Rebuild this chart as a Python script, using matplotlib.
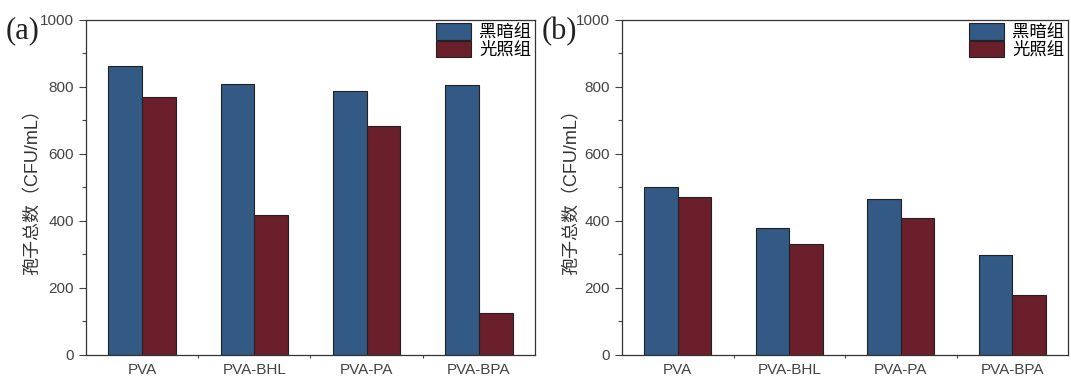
import matplotlib
matplotlib.use('Agg')
import matplotlib.pyplot as plt
import numpy as np
from matplotlib.ticker import MultipleLocator, FixedLocator

plt.rcParams['font.family'] = ['Liberation Sans', 'Noto Sans CJK SC', 'DejaVu Sans']

groups = ['PVA', 'PVA-BHL', 'PVA-PA', 'PVA-BPA']
series_names = ['黑暗组', '光照组']
dark_a = [863, 809, 788, 806]
light_a = [771, 418, 684, 126]
dark_b = [500, 378, 464, 298]
light_b = [470, 331, 408, 179]
ylabel = '孢子总数（CFU/mL）'

blue = '#325a84'
red = '#6a1f2b'
ink = '#444444'

fig = plt.figure(figsize=(10.71, 3.76), dpi=100)
ax1 = fig.add_axes([0.0803, 0.056, 0.4192, 0.891])
ax2 = fig.add_axes([0.5808, 0.056, 0.4164, 0.891])

x = np.arange(1, len(groups) + 1)
w = 0.3
for ax, dark, light, tag, lx in [(ax1, dark_a, light_a, '(a)', -0.098), (ax2, dark_b, light_b, '(b)', -0.092)]:
    ax.bar(x - w / 2, dark, w, color=blue, edgecolor='#222222', linewidth=0.8, label=series_names[0])
    ax.bar(x + w / 2, light, w, color=red, edgecolor='#222222', linewidth=0.8, label=series_names[1])
    ax.set_xlim(0.5, 4.5)
    ax.set_ylim(0, 1000)
    ax.set_xticks(x)
    ax.set_xticklabels(groups, fontsize=11, color=ink)
    ax.xaxis.set_minor_locator(FixedLocator([1.5, 2.5, 3.5]))
    ax.yaxis.set_major_locator(MultipleLocator(200))
    ax.yaxis.set_minor_locator(MultipleLocator(100))
    ax.tick_params(axis='y', which='major', length=5, width=0.8, labelsize=11, colors=ink, direction='out')
    ax.tick_params(axis='y', which='minor', length=3, width=0.8, colors=ink)
    ax.tick_params(axis='x', which='major', length=0, pad=6)
    ax.tick_params(axis='x', which='minor', length=2, width=0.8, colors=ink)
    for sp in ax.spines.values():
        sp.set_color('#333333')
        sp.set_linewidth(0.9)
    ax.set_ylabel(ylabel, fontsize=13, color='#333333')
    ax.yaxis.set_label_coords(lx, 0.5)
    ax.legend(loc='upper right', frameon=False, fontsize=12.5, handlelength=2.0, handleheight=1.1,
              handletextpad=0.5, labelspacing=0.0, borderaxespad=0.1, borderpad=0.1)
    ax.text(-0.18, 1.01, tag, transform=ax.transAxes, fontsize=22, family='Liberation Serif',
            ha='left', va='top', color='#222222')

fig.savefig('out.png', dpi=100)
